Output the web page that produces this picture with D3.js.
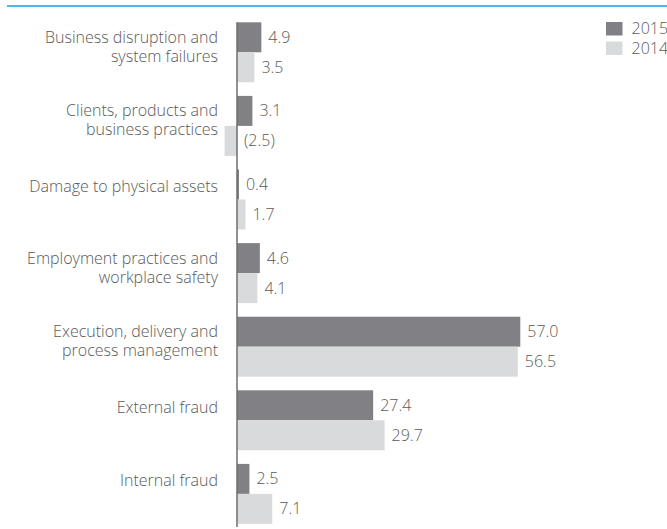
<!DOCTYPE html>
<html>
<head>
<meta charset="utf-8">
<script src="https://cdn.jsdelivr.net/npm/d3@7"></script>
<style>
  html, body { margin: 0; padding: 0; background: #fff; }
  svg { display: block; font-family: "Open Sans", "Noto Sans", sans-serif; font-weight: 300; }
</style>
</head>
<body>
<svg id="chart" width="667" height="529"></svg>
<script>
// Operational loss categories (line breaks mark wrapped labels)
const categories = [
  "Business disruption and\nsystem failures",
  "Clients, products and\nbusiness practices",
  "Damage to physical assets",
  "Employment practices and\nworkplace safety",
  "Execution, delivery and\nprocess management",
  "External fraud",
  "Internal fraud"
];
const years = ["2015", "2014"];
const values2015 = [4.9, 3.1, 0.4, 4.6, 57.0, 27.4, 2.5];
const values2014 = [3.5, -2.5, 1.7, 4.1, 56.5, 29.7, 7.1];

const colors = { "2015": "#818185", "2014": "#d9dadc" };
const textColor = "#5a5a5a";
const fontSize = 16;

const svg = d3.select("#chart");

// top rule
svg.append("line")
  .attr("x1", 7).attr("x2", 667)
  .attr("y1", 6).attr("y2", 6)
  .attr("stroke", "#4cb9e6").attr("stroke-width", 2);

const y = d3.scaleBand()
  .domain(categories)
  .range([15.5, 15.5 + 7 * 73.6])
  .paddingInner(0.185)
  .paddingOuter(0.0925);

const yInner = d3.scaleBand()
  .domain(years)
  .range([0, y.bandwidth()]);

const x = d3.scaleLinear()
  .domain([0, 57])
  .range([237, 237 + 57 * 4.97]);

const rows = categories.map((c, i) => ({
  cat: c,
  vals: [
    { year: "2015", v: values2015[i] },
    { year: "2014", v: values2014[i] }
  ]
}));

const fmt = v => v < 0 ? "(" + d3.format(".1f")(-v) + ")" : d3.format(".1f")(v);

const g = svg.selectAll("g.row").data(rows).join("g")
  .attr("class", "row")
  .attr("transform", d => `translate(0,${y(d.cat)})`);

g.selectAll("rect").data(d => d.vals).join("rect")
  .attr("x", d => x(Math.min(0, d.v)))
  .attr("width", d => Math.abs(x(d.v) - x(0)))
  .attr("y", d => yInner(d.year))
  .attr("height", yInner.bandwidth())
  .attr("fill", d => colors[d.year]);

g.selectAll("text.val").data(d => d.vals).join("text")
  .attr("class", "val")
  .attr("x", d => x(Math.max(0, d.v)) + 7)
  .attr("y", d => yInner(d.year) + yInner.bandwidth() / 2 + 5.5)
  .attr("font-size", fontSize)
  .attr("fill", textColor)
  .text(d => fmt(d.v));

// category labels, right aligned, first line level with the 2015 bar
g.each(function(d) {
  const lines = d.cat.split("\n");
  const lh = 19;
  const first = yInner("2015") + yInner.bandwidth() / 2 + (lines.length > 1 ? 5.5 : 7.5);
  const t = d3.select(this).append("text")
    .attr("text-anchor", "end")
    .attr("font-size", fontSize)
    .attr("fill", textColor);
  lines.forEach((ln, k) => {
    t.append("tspan")
      .attr("x", 218)
      .attr("y", first + k * lh)
      .text(ln);
  });
});

// zero axis
svg.append("line")
  .attr("x1", x(0)).attr("x2", x(0))
  .attr("y1", y(categories[0])).attr("y2", 527)
  .attr("stroke", "#6e6e70").attr("stroke-width", 1.5);

// legend
const legend = svg.append("g").attr("transform", "translate(606,22)");
const li = legend.selectAll("g").data(years).join("g")
  .attr("transform", (d, i) => `translate(0,${i * 19.5})`);
li.append("rect").attr("width", 16.5).attr("height", 13.5).attr("fill", d => colors[d]);
li.append("text")
  .attr("x", 25.5).attr("y", 12.3)
  .attr("font-size", fontSize).attr("fill", textColor)
  .text(d => d);
</script>
</body>
</html>
